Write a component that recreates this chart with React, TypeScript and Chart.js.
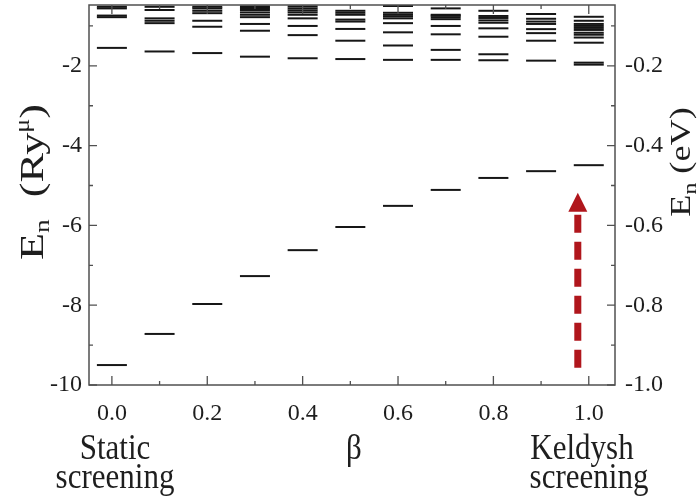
import React, { useEffect, useRef } from "react";
import { Chart, registerables } from "chart.js";

Chart.register(...registerables);

// β values (screening parameter)
const betaValues = [0, 0.1, 0.2, 0.3, 0.4, 0.5, 0.6, 0.7, 0.8, 0.9, 1.0];

// Energy levels E_n (Ry^μ) at each β
const levelsBeta00 = [-9.5, -1.55, -0.78, -0.74, -0.56, -0.52];
const levelsBeta01 = [-8.72, -1.64, -0.93, -0.87, -0.81, -0.6, -0.52];
const levelsBeta02 = [-7.97, -1.68, -1.02, -0.87, -0.68, -0.62, -0.56, -0.52];
const levelsBeta03 = [-7.27, -1.77, -1.12, -0.95, -0.78, -0.72, -0.66, -0.6, -0.55, -0.51];
const levelsBeta04 = [-6.62, -1.81, -1.23, -1.0, -0.81, -0.72, -0.66, -0.61, -0.56, -0.51];
const levelsBeta05 = [-6.04, -1.83, -1.37, -1.075, -0.89, -0.84, -0.72, -0.67, -0.62];
const levelsBeta06 = [-5.51, -1.85, -1.49, -1.16, -0.93, -0.81, -0.76, -0.72, -0.67, -0.5];
const levelsBeta07 = [-5.11, -1.85, -1.6, -1.21, -1.0, -0.83, -0.78, -0.74, -0.72, -0.56];
const levelsBeta08 = [-4.81, -1.86, -1.71, -1.27, -1.06, -0.92, -0.86, -0.8, -0.75, -0.62];
const levelsBeta09 = [-4.64, -1.87, -1.37, -1.18, -1.08, -0.95, -0.89, -0.82, -0.7];
const levelsBeta10 = [-4.49, -1.97, -1.92, -1.42, -1.29, -1.22, -1.17, -1.1, -1.05, -1.0, -0.95, -0.87, -0.77];

const allLevels = [
  levelsBeta00, levelsBeta01, levelsBeta02, levelsBeta03, levelsBeta04, levelsBeta05,
  levelsBeta06, levelsBeta07, levelsBeta08, levelsBeta09, levelsBeta10,
];

// Axis ticks
const xTickValues = [0, 0.2, 0.4, 0.6, 0.8, 1.0];
const xMinorTickValues = [0.1, 0.3, 0.5, 0.7, 0.9];
const yTickValues = [-10, -8, -6, -4, -2];
const yMinorTickValues = [-9, -7, -5, -3, -1];
const y2TickValues = [-1.0, -0.8, -0.6, -0.4, -0.2];

// Axis ranges
const xMin = -0.048;
const xMax = 1.055;
const yMin = -10;
const yMax = -0.475;
const eVPerRy = 0.1; // right axis = left axis * 0.1

// Arrow (β, from energy, to energy)
const arrowBeta = 0.977;
const arrowTail = -9.57;
const arrowTip = -5.18;

const SERIF = '"Liberation Serif", "Times New Roman", serif';
const TEXT = "#1e1e1e";

type Part = { t: string; size: number; dy?: number };

function drawRich(
  ctx: CanvasRenderingContext2D,
  parts: Part[],
  cx: number,
  cy: number,
  rot: number,
  stretch: number
) {
  ctx.save();
  ctx.translate(cx, cy);
  ctx.rotate(rot);
  ctx.scale(stretch, 1);
  ctx.textBaseline = "alphabetic";
  ctx.textAlign = "left";
  let total = 0;
  const widths = parts.map((p) => {
    ctx.font = `${p.size}px ${SERIF}`;
    const w = ctx.measureText(p.t).width;
    total += w;
    return w;
  });
  let x = -total / 2;
  parts.forEach((p, i) => {
    ctx.font = `${p.size}px ${SERIF}`;
    ctx.fillText(p.t, x, p.dy || 0);
    x += widths[i];
  });
  ctx.restore();
}

function drawTallText(ctx: CanvasRenderingContext2D, t: string, x: number, y: number, sy: number) {
  ctx.save();
  ctx.translate(x, y);
  ctx.scale(1, sy);
  ctx.fillText(t, 0, 0);
  ctx.restore();
}

const decorPlugin = {
  id: "decor",
  afterDraw(chart: any) {
    const { ctx, chartArea: a, scales } = chart;
    const xs = scales.x;
    const ys = scales.y;
    ctx.save();

    // frame
    ctx.strokeStyle = "#505050";
    ctx.lineWidth = 1.5;
    ctx.strokeRect(a.left, a.top, a.right - a.left, a.bottom - a.top);

    // inward ticks
    ctx.lineWidth = 1.3;
    const xt = (vals: number[], len: number) => {
      vals.forEach((v) => {
        const px = xs.getPixelForValue(v);
        ctx.beginPath();
        ctx.moveTo(px, a.bottom);
        ctx.lineTo(px, a.bottom - len);
        ctx.moveTo(px, a.top);
        ctx.lineTo(px, a.top + len);
        ctx.stroke();
      });
    };
    const yt = (vals: number[], len: number) => {
      vals.forEach((v) => {
        const py = ys.getPixelForValue(v);
        ctx.beginPath();
        ctx.moveTo(a.left, py);
        ctx.lineTo(a.left + len, py);
        ctx.moveTo(a.right, py);
        ctx.lineTo(a.right - len, py);
        ctx.stroke();
      });
    };
    xt(xTickValues, 9);
    xt(xMinorTickValues, 4);
    yt(yTickValues, 8);
    yt(yMinorTickValues, 4);

    // dashed arrow
    const ax = xs.getPixelForValue(arrowBeta);
    const yTail = ys.getPixelForValue(arrowTail);
    const yTip = ys.getPixelForValue(arrowTip);
    const headLen = 19;
    const headHalf = 9.5;
    ctx.strokeStyle = "#b0161c";
    ctx.fillStyle = "#b0161c";
    ctx.lineWidth = 7;
    ctx.setLineDash([18, 9]);
    ctx.beginPath();
    ctx.moveTo(ax, yTail);
    ctx.lineTo(ax, yTip + headLen + 3);
    ctx.stroke();
    ctx.setLineDash([]);
    ctx.beginPath();
    ctx.moveTo(ax, yTip);
    ctx.lineTo(ax - headHalf, yTip + headLen);
    ctx.lineTo(ax + headHalf, yTip + headLen);
    ctx.closePath();
    ctx.fill();

    // texts
    ctx.fillStyle = TEXT;
    ctx.font = `31px ${SERIF}`;
    ctx.textAlign = "center";
    ctx.textBaseline = "alphabetic";
    drawTallText(ctx, "Static", 115, 459, 1.15);
    drawTallText(ctx, "screening", 115, 488, 1.15);
    drawTallText(ctx, "β", 354, 459, 1.15);
    drawTallText(ctx, "Keldysh", 582, 459, 1.15);
    drawTallText(ctx, "screening", 589, 488, 1.15);

    drawRich(
      ctx,
      [
        { t: "E", size: 34 },
        { t: "n", size: 21, dy: 6 },
        { t: "  (Ry", size: 34 },
        { t: "μ", size: 20, dy: -14 },
        { t: ")", size: 34 },
      ],
      43,
      182,
      -Math.PI / 2,
      1.3
    );
    drawRich(
      ctx,
      [
        { t: "E", size: 29 },
        { t: "n", size: 19, dy: 6 },
        { t: " (eV)", size: 29 },
      ],
      690,
      162,
      -Math.PI / 2,
      1.25
    );
    ctx.restore();
  },
};

export default function App() {
  const ref = useRef<HTMLCanvasElement | null>(null);

  useEffect(() => {
    if (!ref.current) return;
    const datasets = betaValues.map((b, i) => ({
      label: `β = ${b.toFixed(1)}`,
      data: allLevels[i].map((e) => ({ x: b, y: e })),
      showLine: false,
      pointStyle: "line" as const,
      pointRadius: 15,
      pointHoverRadius: 15,
      pointBorderWidth: 2,
      pointHoverBorderWidth: 2,
      pointBorderColor: "#161616",
      pointBackgroundColor: "#161616",
      borderColor: "#161616",
      clip: false as any,
    }));

    const tickFont = { family: SERIF, size: 24 };

    const chart = new Chart(ref.current, {
      type: "scatter",
      data: { datasets },
      plugins: [decorPlugin],
      options: {
        animation: false,
        responsive: false,
        events: [],
        layout: { autoPadding: false, padding: { top: 5, left: 0, right: 0, bottom: 0 } },
        plugins: { legend: { display: false }, tooltip: { enabled: false } },
        scales: {
          x: {
            type: "linear",
            min: xMin,
            max: xMax,
            grid: { display: false, drawTicks: false },
            border: { display: false },
            afterBuildTicks: (s: any) => {
              s.ticks = xTickValues.map((v) => ({ value: v }));
            },
            afterFit: (s: any) => {
              s.height = 111;
              s.paddingLeft = 0;
              s.paddingRight = 0;
            },
            ticks: {
              font: tickFont,
              color: TEXT,
              padding: 14,
              maxRotation: 0,
              autoSkip: false,
              callback: (v: any) => Number(v).toFixed(1),
            },
          },
          y: {
            type: "linear",
            position: "left",
            min: yMin,
            max: yMax,
            grid: { display: false, drawTicks: false },
            border: { display: false },
            afterBuildTicks: (s: any) => {
              s.ticks = yTickValues.map((v) => ({ value: v }));
            },
            afterFit: (s: any) => {
              s.width = 89;
              s.paddingTop = 0;
              s.paddingBottom = 0;
            },
            ticks: {
              font: tickFont,
              color: TEXT,
              padding: 7,
              autoSkip: false,
              callback: (v: any) => String(Math.round(Number(v))),
            },
          },
          y2: {
            type: "linear",
            position: "right",
            min: yMin * eVPerRy,
            max: yMax * eVPerRy,
            grid: { display: false, drawTicks: false },
            border: { display: false },
            afterBuildTicks: (s: any) => {
              s.ticks = y2TickValues.map((v) => ({ value: v }));
            },
            afterFit: (s: any) => {
              s.width = 83;
              s.paddingTop = 0;
              s.paddingBottom = 0;
            },
            ticks: {
              font: tickFont,
              color: TEXT,
              padding: 10,
              autoSkip: false,
              callback: (v: any) => Number(v).toFixed(1),
            },
          },
        },
      },
    });
    return () => chart.destroy();
  }, []);

  return (
    <div style={{ position: "absolute", left: 0, top: 0, width: 698, height: 496, background: "#fff" }}>
      <canvas ref={ref} width={698} height={496} style={{ display: "block" }} />
    </div>
  );
}
